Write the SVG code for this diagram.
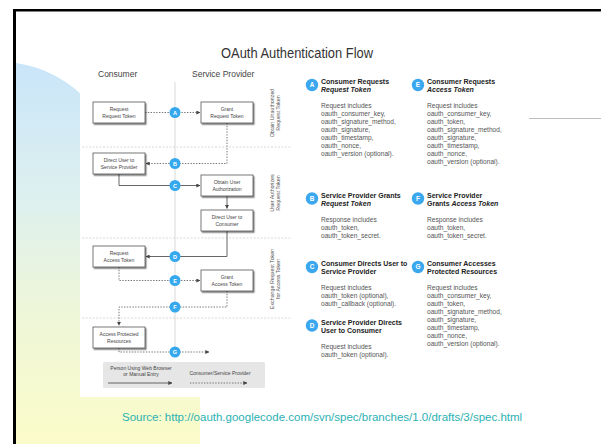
<svg xmlns="http://www.w3.org/2000/svg" width="601" height="444" viewBox="0 0 601 444">
  <defs>
    <linearGradient id="bgGrad" gradientUnits="userSpaceOnUse" x1="0" y1="62" x2="0" y2="444">
      <stop offset="0" stop-color="#c9e5f9"/>
      <stop offset="0.35" stop-color="#ddf0ef"/>
      <stop offset="0.65" stop-color="#eef6d9"/>
      <stop offset="1" stop-color="#fbfcc9"/>
    </linearGradient>
    <filter id="shadow" x="-20%" y="-30%" width="140%" height="160%">
      <feDropShadow dx="1.2" dy="1.5" stdDeviation="0.7" flood-color="#000" flood-opacity="0.5"/>
    </filter>
    <marker id="arrow" viewBox="0 0 6 6" refX="5.5" refY="3" markerWidth="4" markerHeight="4" orient="auto" markerUnits="userSpaceOnUse">
      <path d="M0,0 L6,3 L0,6 Z" fill="#444"/>
    </marker>
    <style>
      text { font-family: "Liberation Sans", Arial, sans-serif; }
      .title { font-size: 14px; fill: #333; }
      .lane { font-size: 8.5px; fill: #444; }
      .box rect { fill: #fff; stroke: #555; stroke-width: 0.8; filter: url(#shadow); }
      .box text { font-size: 5px; fill: #444; text-anchor: middle; }
      .sep { stroke: #cfcfcf; stroke-width: 0.8; stroke-dasharray: 2 1.5; fill: none; }
      .dot { stroke: #666; stroke-width: 0.9; stroke-dasharray: 1.4 1.4; fill: none; }
      .solid { stroke: #555; stroke-width: 0.9; fill: none; }
      .step circle { fill: #36a9ee; }
      .step text { font-size: 5.5px; font-weight: bold; fill: #fff; text-anchor: middle; }
      .side { font-size: 5.3px; fill: #555; text-anchor: middle; }
      .head { font-size: 7px; font-weight: bold; fill: #222; }
      .body { font-size: 6.6px; fill: #555; }
      .badge circle { fill: #3aa7ee; }
      .badge text { font-size: 6.4px; font-weight: bold; fill: #fff; text-anchor: middle; }
      .legend-text { font-size: 5px; fill: #444; text-anchor: middle; }
    </style>
  </defs>

  <!-- slide background -->
  <rect x="0" y="0" width="601" height="444" fill="#fff"/>
  <path d="M16,444 V63.1 A118,118 0 0 1 118,180 L200,300 V444 Z" fill="url(#bgGrad)"/>
  <rect x="13" y="9" width="588" height="2.5" fill="#000"/>
  <rect x="13" y="9" width="3" height="435" fill="#000"/>
  <line x1="527" y1="118.5" x2="601" y2="118.5" stroke="#bdbdbd" stroke-width="1"/>

  <!-- diagram panel -->
  <rect x="80" y="30" width="449" height="367" fill="#fff"/>

  <text class="title" x="297" y="58" text-anchor="middle" textLength="152" lengthAdjust="spacingAndGlyphs">OAuth Authentication Flow</text>
  <text class="lane" x="98" y="77">Consumer</text>
  <text class="lane" x="192" y="77">Service Provider</text>

  <!-- phase separators and lane divider -->
  <g id="separators">
    <line x1="175" y1="82" x2="175" y2="352" stroke="#cfcfcf" stroke-width="0.8"/>
    <line class="sep" x1="82" y1="147" x2="292" y2="147"/>
    <line class="sep" x1="82" y1="238" x2="292" y2="238"/>
    <line class="sep" x1="82" y1="318" x2="292" y2="318"/>
  </g>

  <!-- phase labels -->
  <g id="phase-labels">
    <text class="side" transform="translate(273.5,113) rotate(-90)">Obtain Unauthorized<tspan x="0" dy="6.8">Request Token</tspan></text>
    <text class="side" transform="translate(273.5,193) rotate(-90)">User Authorizes<tspan x="0" dy="6.8">Request Token</tspan></text>
    <text class="side" transform="translate(273.5,279) rotate(-90)">Exchange Request Token<tspan x="0" dy="6.8">for Access Token</tspan></text>
  </g>

  <!-- connectors -->
  <g id="connectors">
    <path class="dot" d="M145,112.5 H200" marker-end="url(#arrow)"/>
    <path class="dot" d="M227,123 V163.5 H146" marker-end="url(#arrow)"/>
    <path class="solid" d="M119,174 V185.5 H200" marker-end="url(#arrow)"/>
    <path class="solid" d="M227,196 V208.5" marker-end="url(#arrow)"/>
    <path class="solid" d="M227,231 V256.5 H146" marker-end="url(#arrow)"/>
    <path class="dot" d="M119,267 V280.5 H200" marker-end="url(#arrow)"/>
    <path class="dot" d="M227,291 V307 H119 V325.5" marker-end="url(#arrow)"/>
    <path class="dot" d="M119,348 V352 H209" marker-end="url(#arrow)"/>
  </g>

  <!-- step markers -->
  <g id="step-a" class="step"><circle cx="175" cy="112.5" r="5.5"/><text x="175" y="114.5">A</text></g>
  <g id="step-b" class="step"><circle cx="175" cy="163.5" r="5.5"/><text x="175" y="165.5">B</text></g>
  <g id="step-c" class="step"><circle cx="175" cy="185.5" r="5.5"/><text x="175" y="187.5">C</text></g>
  <g id="step-d" class="step"><circle cx="175" cy="256.5" r="5.5"/><text x="175" y="258.5">D</text></g>
  <g id="step-e" class="step"><circle cx="175" cy="280.5" r="5.5"/><text x="175" y="282.5">E</text></g>
  <g id="step-f" class="step"><circle cx="175" cy="307" r="5.5"/><text x="175" y="309">F</text></g>
  <g id="step-g" class="step"><circle cx="175" cy="352" r="5.5"/><text x="175" y="354">G</text></g>

  <!-- process boxes -->
  <g id="request-request-token" class="box"><rect x="93" y="102" width="52" height="21"/><text x="119" y="111">Request</text><text x="119" y="117.5">Request Token</text></g>
  <g id="grant-request-token" class="box"><rect x="201" y="102" width="52" height="21"/><text x="227" y="111">Grant</text><text x="227" y="117.5">Request Token</text></g>
  <g id="direct-user-to-sp" class="box"><rect x="93" y="153" width="52" height="21"/><text x="119" y="162">Direct User to</text><text x="119" y="168.5">Service Provider</text></g>
  <g id="obtain-user-authorization" class="box"><rect x="201" y="175" width="52" height="21"/><text x="227" y="184">Obtain User</text><text x="227" y="190.5">Authorization</text></g>
  <g id="direct-user-to-consumer" class="box"><rect x="201" y="210" width="52" height="21"/><text x="227" y="219">Direct User to</text><text x="227" y="225.5">Consumer</text></g>
  <g id="request-access-token" class="box"><rect x="93" y="246" width="52" height="21"/><text x="119" y="255">Request</text><text x="119" y="261.5">Access Token</text></g>
  <g id="grant-access-token" class="box"><rect x="201" y="270" width="52" height="21"/><text x="227" y="279">Grant</text><text x="227" y="285.5">Access Token</text></g>
  <g id="access-protected-resources" class="box"><rect x="93" y="327" width="52" height="21"/><text x="119" y="336">Access Protected</text><text x="119" y="342.5">Resources</text></g>

  <!-- legend -->
  <g id="legend">
    <rect x="103" y="362" width="162" height="26" rx="1.5" fill="#e6e6e6"/>
    <text class="legend-text" x="141" y="370">Person Using Web Browser</text>
    <text class="legend-text" x="141" y="376">or Manual Entry</text>
    <path class="solid" d="M108,383 H172" marker-end="url(#arrow)"/>
    <text class="legend-text" x="220" y="375">Consumer/Service Provider</text>
    <path class="dot" d="M190,383 H247" marker-end="url(#arrow)"/>
  </g>

  <!-- step descriptions -->
  <g id="desc-a">
    <g class="badge"><circle cx="312" cy="85" r="6.2"/><text x="312" y="87.3">A</text></g>
    <text class="head" x="321" y="84.4">Consumer Requests<tspan x="321" dy="8" font-style="italic">Request Token</tspan></text>
    <text class="body" x="321" y="108.4">Request includes<tspan x="321" dy="8">oauth_consumer_key,</tspan><tspan x="321" dy="8">oauth_signature_method,</tspan><tspan x="321" dy="8">oauth_signature,</tspan><tspan x="321" dy="8">oauth_timestamp,</tspan><tspan x="321" dy="8">oauth_nonce,</tspan><tspan x="321" dy="8">oauth_version (optional).</tspan></text>
  </g>
  <g id="desc-e">
    <g class="badge"><circle cx="418" cy="85" r="6.2"/><text x="418" y="87.3">E</text></g>
    <text class="head" x="427" y="84.4">Consumer Requests<tspan x="427" dy="8" font-style="italic">Access Token</tspan></text>
    <text class="body" x="427" y="108.4">Request includes<tspan x="427" dy="8">oauth_consumer_key,</tspan><tspan x="427" dy="8">oauth_token,</tspan><tspan x="427" dy="8">oauth_signature_method,</tspan><tspan x="427" dy="8">oauth_signature,</tspan><tspan x="427" dy="8">oauth_timestamp,</tspan><tspan x="427" dy="8">oauth_nonce,</tspan><tspan x="427" dy="8">oauth_version (optional).</tspan></text>
  </g>
  <g id="desc-b">
    <g class="badge"><circle cx="312" cy="198.5" r="6.2"/><text x="312" y="200.8">B</text></g>
    <text class="head" x="321" y="197.9">Service Provider Grants<tspan x="321" dy="8" font-style="italic">Request Token</tspan></text>
    <text class="body" x="321" y="221.9">Response includes<tspan x="321" dy="8">oauth_token,</tspan><tspan x="321" dy="8">oauth_token_secret.</tspan></text>
  </g>
  <g id="desc-f">
    <g class="badge"><circle cx="418" cy="198.5" r="6.2"/><text x="418" y="200.8">F</text></g>
    <text class="head" x="427" y="197.9">Service Provider<tspan x="427" dy="8">Grants </tspan><tspan font-style="italic">Access Token</tspan></text>
    <text class="body" x="427" y="221.9">Response includes<tspan x="427" dy="8">oauth_token,</tspan><tspan x="427" dy="8">oauth_token_secret.</tspan></text>
  </g>
  <g id="desc-c">
    <g class="badge"><circle cx="312" cy="267" r="6.2"/><text x="312" y="269.3">C</text></g>
    <text class="head" x="321" y="266.4">Consumer Directs User to<tspan x="321" dy="8">Service Provider</tspan></text>
    <text class="body" x="321" y="290.4">Request includes<tspan x="321" dy="8">oauth_token (optional),</tspan><tspan x="321" dy="8">oauth_callback (optional).</tspan></text>
  </g>
  <g id="desc-g">
    <g class="badge"><circle cx="418" cy="267" r="6.2"/><text x="418" y="269.3">G</text></g>
    <text class="head" x="427" y="266.4">Consumer Accesses<tspan x="427" dy="8">Protected Resources</tspan></text>
    <text class="body" x="427" y="290.4">Request includes<tspan x="427" dy="8">oauth_consumer_key,</tspan><tspan x="427" dy="8">oauth_token,</tspan><tspan x="427" dy="8">oauth_signature_method,</tspan><tspan x="427" dy="8">oauth_signature,</tspan><tspan x="427" dy="8">oauth_timestamp,</tspan><tspan x="427" dy="8">oauth_nonce,</tspan><tspan x="427" dy="8">oauth_version (optional).</tspan></text>
  </g>
  <g id="desc-d">
    <g class="badge"><circle cx="312" cy="325.5" r="6.2"/><text x="312" y="327.8">D</text></g>
    <text class="head" x="321" y="324.9">Service Provider Directs<tspan x="321" dy="8">User to Consumer</tspan></text>
    <text class="body" x="321" y="348.9">Request includes<tspan x="321" dy="8">oauth_token (optional).</tspan></text>
  </g>

  <!-- source line -->
  <text x="122" y="421" font-size="11.5" fill="#2bb1b3">Source: http://oauth.googlecode.com/svn/spec/branches/1.0/drafts/3/spec.html</text>
</svg>
